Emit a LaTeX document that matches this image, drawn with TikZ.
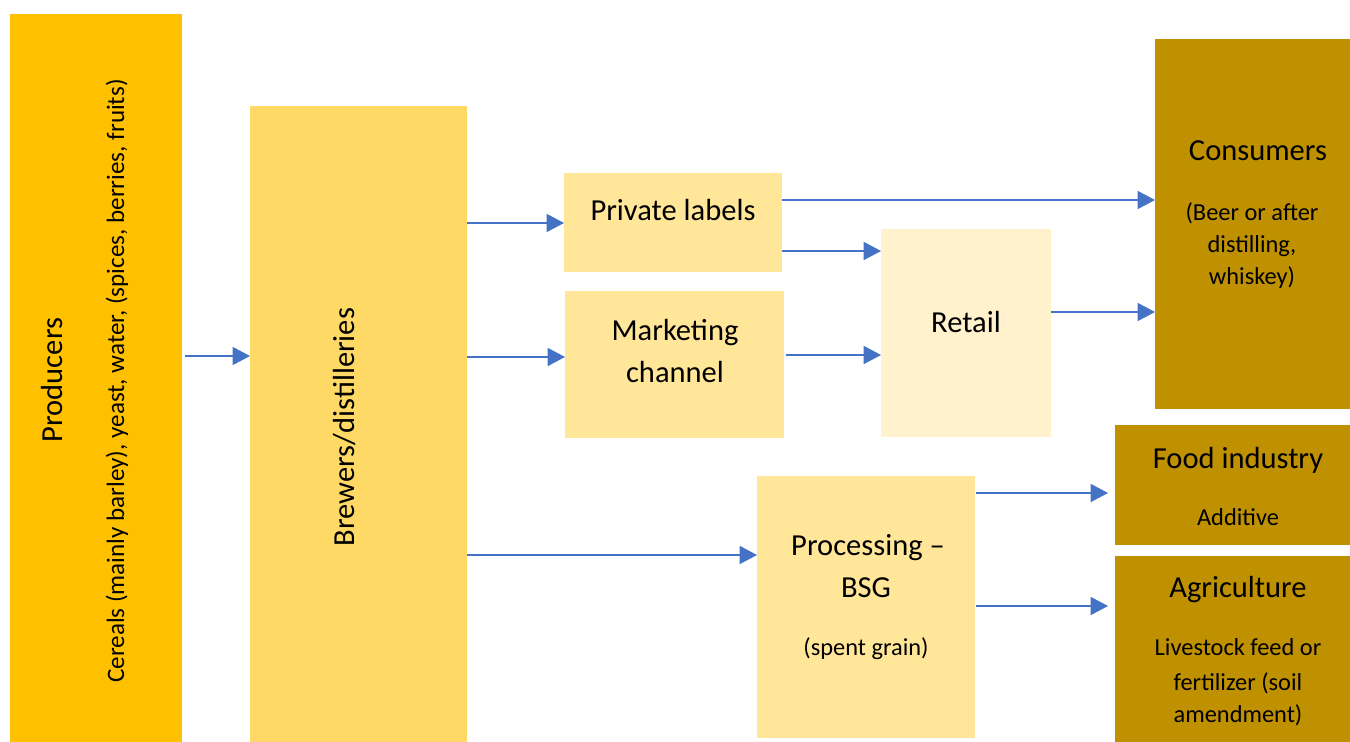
\documentclass[tikz,border=0pt]{standalone}
\usepackage{fontspec}
\setmainfont{Carlito}
\usetikzlibrary{arrows.meta,fit}

\definecolor{prodfill}{HTML}{FFC000}
\definecolor{brewfill}{HTML}{FFD966}
\definecolor{midfill}{HTML}{FFE699}
\definecolor{retailfill}{HTML}{FFF2CC}
\definecolor{endfill}{HTML}{BF9000}
\definecolor{flowblue}{HTML}{4472C4}

\begin{document}
\begin{tikzpicture}[x=0.75pt,y=-0.75pt,
  box/.style={draw=none, inner sep=0pt, outer sep=0pt},
  big/.style={font=\fontsize{22.9}{27}\selectfont, inner sep=0pt},
  small/.style={font=\fontsize{18.3}{22}\selectfont, inner sep=0pt},
  side/.style={font=\fontsize{18.8}{22}\selectfont, inner sep=0pt},
  flow/.style={draw=flowblue, line width=1.1pt,
    -{Triangle[length=13pt,width=13.5pt]}}]

\useasboundingbox (0,0) rectangle (1350,742);

% boxes
\node[box, fill=prodfill,   fit={(10,14)(182,742)}]     (prod) {};
\node[box, fill=brewfill,   fit={(250,106)(467,742)}]   (brew) {};
\node[box, fill=midfill,    fit={(564,173)(782,272)}]   (pl)   {};
\node[box, fill=midfill,    fit={(565,291)(784,438)}]   (mk)   {};
\node[box, fill=retailfill, fit={(881,229)(1051,437)}]  (ret)  {};
\node[box, fill=endfill,    fit={(1155,39)(1350,409)}]  (cons) {};
\node[box, fill=endfill,    fit={(1115,425)(1350,545)}] (food) {};
\node[box, fill=endfill,    fit={(1115,556)(1350,742)}] (agri) {};
\node[box, fill=midfill,    fit={(757,476)(975,738)}]   (bsg)  {};

% texts
\node[big, rotate=90]  (t-prod) at (52,380) {Producers};
\node[side, rotate=90] (t-cer)  at (117,381) {Cereals (mainly barley), yeast, water, (spices, berries, fruits)};
\node[big, rotate=90]  (t-brew) at (345,427) {Brewers/distilleries};

\node[big, anchor=base] (t-pl)  at (673,220) {Private labels};
\node[big, anchor=base] (t-mk1) at (675,340) {Marketing};
\node[big, anchor=base] (t-mk2) at (675,382) {channel};
\node[big, anchor=base] (t-ret) at (966,332) {Retail};

\node[big, anchor=base]   (t-cons)  at (1258,160) {Consumers};
\node[small, anchor=base] (t-cons1) at (1252,220) {(Beer or after};
\node[small, anchor=base] (t-cons2) at (1252,252) {distilling,};
\node[small, anchor=base] (t-cons3) at (1252,284) {whiskey)};

\node[big, anchor=base]   (t-food)  at (1238,468) {Food industry};
\node[small, anchor=base] (t-food1) at (1238,525) {Additive};

\node[big, anchor=base]   (t-agri)  at (1238,597) {Agriculture};
\node[small, anchor=base] (t-agri1) at (1238,655) {Livestock feed or};
\node[small, anchor=base] (t-agri2) at (1238,690) {fertilizer (soil};
\node[small, anchor=base] (t-agri3) at (1238,722) {amendment)};

\node[big, anchor=base]   (t-bsg1) at (868,555) {Processing –};
\node[big, anchor=base]   (t-bsg2) at (866,597) {BSG};
\node[small, anchor=base] (t-bsg3) at (866,655) {(spent grain)};

% arrow heights
\coordinate (y1) at (0,356);
\coordinate (y2) at (0,223);
\coordinate (y3) at (0,357);
\coordinate (y4) at (0,555);
\coordinate (y5) at (0,200);
\coordinate (y6) at (0,251);
\coordinate (y7) at (0,355);
\coordinate (y8) at (0,312);
\coordinate (y9) at (0,493);
\coordinate (y10) at (0,606);

% flows
\draw[flow, shorten <=2.25pt] (prod.east |- y1) -- (brew.west |- y1);
\draw[flow] (brew.east |- y2) -- (pl.west |- y2);
\draw[flow] (brew.east |- y3) -- (mk.west |- y3);
\draw[flow] (brew.east |- y4) -- (bsg.west |- y4);
\draw[flow] (pl.east |- y5) -- (cons.west |- y5);
\draw[flow] (pl.east |- y6) -- (ret.west |- y6);
\draw[flow, shorten <=1.5pt] (mk.east |- y7) -- (ret.west |- y7);
\draw[flow] (ret.east |- y8) -- (cons.west |- y8);
\draw[flow, shorten <=0.75pt, shorten >=5.25pt] (bsg.east |- y9) -- (food.west |- y9);
\draw[flow, shorten <=0.75pt, shorten >=5.25pt] (bsg.east |- y10) -- (agri.west |- y10);
\end{tikzpicture}
\end{document}
